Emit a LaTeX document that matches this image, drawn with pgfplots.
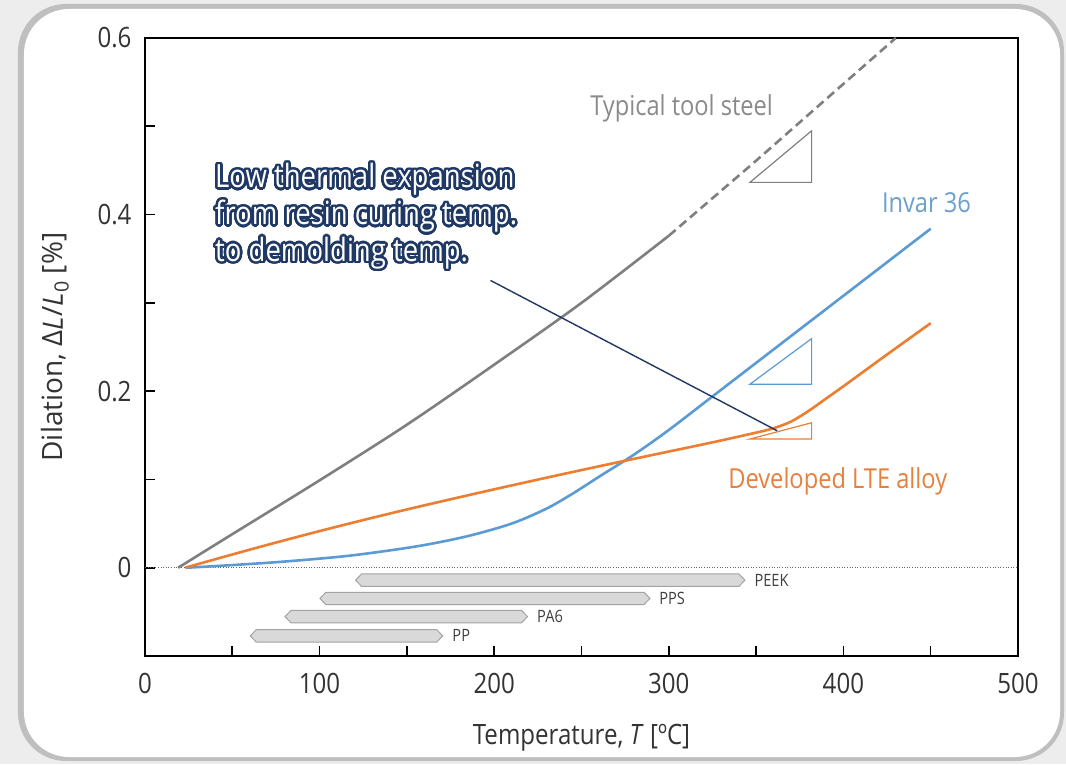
\documentclass[border=0pt]{standalone}
\usepackage{fontspec}
\setmainfont{Open Sans}[FakeStretch=0.86]
\newfontfamily\plainfont{Open Sans}
\usepackage{pgfplots}
\pgfplotsset{compat=1.18}
\usepackage[copies]{contour}
\contourlength{2.5pt}
\contournumber{32}

\definecolor{steel}{HTML}{7F7F7F}
\definecolor{steeltxt}{HTML}{8A8A8A}
\definecolor{invar}{HTML}{5B9BD5}
\definecolor{invartxt}{HTML}{6A9FCF}
\definecolor{lte}{HTML}{ED7D31}
\definecolor{ltetxt}{HTML}{E5803D}
\definecolor{navy}{HTML}{1F3864}
\definecolor{barfill}{HTML}{D9D9D9}
\definecolor{bardraw}{HTML}{A3A3A3}

\begin{document}
\begin{tikzpicture}
% panel behind the chart
\fill[black!7] (-145pt,-108pt) rectangle (921pt,656pt);
\fill[black!25,rounded corners=48pt] (-127pt,-105pt) rectangle (919pt,652pt);
\fill[white,rounded corners=45pt] (-121pt,-101pt) rectangle (915pt,647pt);

\begin{axis}[
    at={(0,0)}, anchor=south west,
    scale only axis, width=873pt, height=618pt,
    xmin=0, xmax=500, ymin=-0.1, ymax=0.6,
    xtick={0,100,...,500}, ytick={0,0.2,0.4,0.6},
    minor x tick num=1, minor y tick num=1,
    xtick pos=bottom, ytick pos=left, tick align=inside,
    major tick length=10pt, minor tick length=10pt,
    every tick/.style={black, line width=1.6pt},
    axis line style={line width=2.2pt},
    tick label style={font=\fontsize{28}{32}\selectfont, text=black!80},
    /pgf/number format/assume math mode=true,
    yticklabel style={/pgf/number format/fixed, xshift=-10pt},
    xticklabel style={yshift=-14pt},
    xlabel={Temperature, \textit{T} [ºC]},
    ylabel={Dilation, Δ\textit{L}/\textit{L}\textsubscript{0} [\%]},
    xlabel style={font=\fontsize{28}{32}\selectfont, text=black!80,
        at={(axis description cs:0.5,0)}, anchor=base, yshift=-88pt},
    ylabel style={font=\plainfont\fontsize{28}{32}\selectfont, text=black!80,
        at={(axis description cs:0,0.5)}, anchor=base, yshift=82pt},
    clip=false,
]

% zero line
\addplot[black!60, line width=0.6pt, dotted] coordinates {(0,0) (500,0)};

% resin processing windows
\addplot[fill=barfill, draw=bardraw, line width=1pt] coordinates {
    (120.6,-0.0141) (124,-0.0071) (340.2,-0.0071) (343.6,-0.0141) (340.2,-0.0211) (124,-0.0211)} -- cycle;
\addplot[fill=barfill, draw=bardraw, line width=1pt] coordinates {
    (100.2,-0.0348) (103.6,-0.0278) (285.8,-0.0278) (289.2,-0.0348) (285.8,-0.0418) (103.6,-0.0418)} -- cycle;
\addplot[fill=barfill, draw=bardraw, line width=1pt] coordinates {
    (80.2,-0.0554) (83.6,-0.0484) (215.7,-0.0484) (219.1,-0.0554) (215.7,-0.0624) (83.6,-0.0624)} -- cycle;
\addplot[fill=barfill, draw=bardraw, line width=1pt] coordinates {
    (60.3,-0.0772) (63.7,-0.0702) (167.1,-0.0702) (170.5,-0.0772) (167.1,-0.0842) (63.7,-0.0842)} -- cycle;
\node[anchor=west, inner sep=0, text=black!75, font=\fontsize{17}{20}\selectfont] at (axis cs:349,-0.0141) {PEEK};
\node[anchor=west, inner sep=0, text=black!75, font=\fontsize{17}{20}\selectfont] at (axis cs:294.5,-0.0348) {PPS};
\node[anchor=west, inner sep=0, text=black!75, font=\fontsize{17}{20}\selectfont] at (axis cs:224.5,-0.0554) {PA6};
\node[anchor=west, inner sep=0, text=black!75, font=\fontsize{17}{20}\selectfont] at (axis cs:176,-0.0772) {PP};

% typical tool steel
\addplot[steel, line width=2.6pt, smooth] coordinates {
    (19,0) (50,0.038) (100,0.099) (150,0.162) (200,0.230) (250,0.300) (300,0.376)};
\addplot[steel, line width=2.6pt, dash pattern=on 9pt off 5pt] coordinates {
    (300,0.376) (350,0.461) (400,0.548) (430,0.6)};

% Invar 36
\addplot[invar, line width=2.6pt, smooth] coordinates {
    (24,0) (50,0.003) (80,0.007) (117,0.0136) (155,0.024) (184,0.0354) (210,0.050)
    (230,0.067) (245,0.084) (260,0.103) (280,0.128) (300,0.156)
    (325,0.194) (350,0.232) (400,0.308) (450,0.384)};

% developed LTE alloy
\addplot[lte, line width=2.6pt, smooth] coordinates {
    (23,0) (50,0.0150) (75,0.0285) (100,0.0415) (125,0.0540) (150,0.0660) (175,0.0775)
    (200,0.0888) (225,0.0998) (250,0.1106) (275,0.1212) (300,0.1316) (325,0.1420)
    (350,0.1530) (360,0.1580) (370,0.1655) (380,0.1775) (390,0.1915) (400,0.2055)
    (425,0.2415) (450,0.277)};

% slope triangles
\addplot[steel, line width=1.2pt] coordinates {(346.5,0.4365) (381.8,0.4365) (381.8,0.4949)} -- cycle;
\addplot[invar, line width=1.2pt] coordinates {(346.5,0.2079) (381.8,0.2079) (381.8,0.2595)} -- cycle;
\addplot[lte, line width=1.2pt] coordinates {(346.5,0.1458) (381.8,0.1458) (381.8,0.1642)} -- cycle;

% pointer
\addplot[navy, line width=1.4pt] coordinates {(197.9,0.3254) (362.1,0.1551)};

% curve names
\node[anchor=base west, inner sep=0, text=steeltxt, font=\fontsize{27.5}{32}\selectfont] at (axis cs:254.9,0.5119) {Typical tool steel};
\node[anchor=base west, inner sep=0, text=invartxt, font=\fontsize{27.5}{32}\selectfont] at (axis cs:422,0.4026) {Invar 36};
\node[anchor=base west, inner sep=0, text=ltetxt, font=\fontsize{27.5}{32}\selectfont] at (axis cs:334,0.0901) {Developed LTE alloy};

% annotation
\node[anchor=base west, inner sep=0, text=white, font=\fontsize{32}{37}\selectfont] at (axis cs:40.1,0.4305) {\contour{navy}{Low thermal expansion}};
\node[anchor=base west, inner sep=0, text=white, font=\fontsize{32}{37}\selectfont] at (axis cs:40.1,0.3887) {\contour{navy}{from resin curing temp.}};
\node[anchor=base west, inner sep=0, text=white, font=\fontsize{32}{37}\selectfont] at (axis cs:40.1,0.3469) {\contour{navy}{to demolding temp.}};

\end{axis}
\end{tikzpicture}
\end{document}
